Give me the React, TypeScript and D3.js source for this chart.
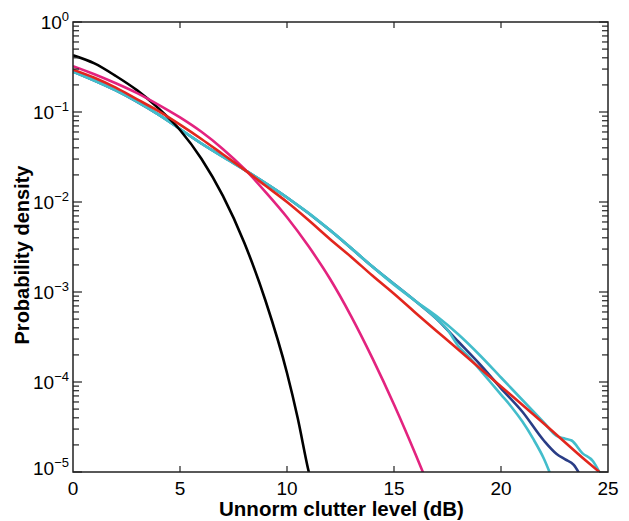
import React, { useEffect } from 'react';
import * as d3 from 'd3';

// clutter level (dB) and log10 of probability density
const blackX = [0, 1, 2, 3, 4, 5, 6, 7, 8, 9, 10, 10.5, 11, 11.1];
const blackY = [-0.37, -0.46, -0.6, -0.76, -0.96, -1.2, -1.52, -1.93, -2.45, -3.1, -3.9, -4.4, -4.98, -5.08];

const pinkX = [0, 1, 2, 3, 4, 5, 6, 7, 8, 9, 10, 11, 12, 13, 14, 15, 16, 16.4];
const pinkY = [-0.49, -0.58, -0.68, -0.79, -0.92, -1.06, -1.22, -1.41, -1.63, -1.89, -2.17, -2.49, -2.85, -3.27, -3.74, -4.25, -4.8, -5.03];

const redX = [0, 1, 2, 3, 4, 5, 6, 7, 8, 9, 10, 11, 12, 13, 14, 15, 16, 18, 20, 22, 24, 24.6];
const redY = [-0.53, -0.62, -0.73, -0.86, -0.99, -1.14, -1.3, -1.47, -1.64, -1.82, -2.0, -2.2, -2.41, -2.61, -2.82, -3.02, -3.23, -3.64, -4.05, -4.46, -4.88, -5.0];

const cyanX = [0, 1, 2, 3, 4, 5, 6, 7, 8, 9, 10, 11, 12, 13, 14, 15, 16, 17, 18, 19, 20, 21, 22, 22.6, 23, 23.3, 23.8, 24.3, 24.7];
const cyanY = [-0.55, -0.65, -0.76, -0.88, -1.03, -1.19, -1.35, -1.5, -1.64, -1.79, -1.95, -2.12, -2.31, -2.51, -2.72, -2.92, -3.1, -3.27, -3.47, -3.7, -3.95, -4.2, -4.45, -4.6, -4.63, -4.65, -4.79, -4.88, -5.05];

const cyan2X = [0, 2, 4, 6, 8, 10, 12, 14, 16, 17, 17.5, 18, 18.5, 19, 19.5, 20, 20.5, 21, 21.5, 22, 22.4];
const cyan2Y = [-0.55, -0.76, -1.03, -1.35, -1.64, -1.95, -2.31, -2.72, -3.1, -3.3, -3.42, -3.6, -3.72, -3.86, -4.0, -4.14, -4.28, -4.44, -4.63, -4.85, -5.08];

const navyX = [0, 2, 4, 6, 8, 10, 12, 14, 16, 17, 18, 19, 20, 21, 22, 22.6, 23, 23.4, 23.8];
const navyY = [-0.55, -0.76, -1.03, -1.35, -1.64, -1.95, -2.31, -2.72, -3.1, -3.3, -3.55, -3.8, -4.07, -4.33, -4.65, -4.8, -4.86, -4.92, -5.08];

const xTicks = [0, 5, 10, 15, 20, 25];
const yDecades = [0, -1, -2, -3, -4, -5];

const series = [
  { xs: navyX, ys: navyY, color: '#2a3d86' },
  { xs: cyan2X, ys: cyan2Y, color: '#43bdcb' },
  { xs: cyanX, ys: cyanY, color: '#43bdcb' },
  { xs: blackX, ys: blackY, color: '#000000' },
  { xs: pinkX, ys: pinkY, color: '#e3237f' },
  { xs: redX, ys: redY, color: '#e2261d' },
];

const W = 629, H = 521;
const left = 73, right = 608, top = 22, bottom = 472;

export default function App() {
  useEffect(() => {
    document.body.style.margin = '0';
  }, []);

  const x = d3.scaleLinear().domain([0, 25]).range([left, right]);
  const y = d3.scaleLog().domain([1e-5, 1]).range([bottom, top]);

  const line = d3.line<[number, number]>()
    .x(d => x(d[0]))
    .y(d => y(Math.pow(10, d[1])))
    .curve(d3.curveMonotoneX);

  const minor: number[] = [];
  yDecades.slice(1).forEach(e => {
    for (let k = 2; k <= 9; k++) minor.push(k * Math.pow(10, e));
  });

  const font = 'Liberation Sans, Arial, Helvetica, sans-serif';

  return (
    <svg width={W} height={H} style={{ display: 'block' }} fontFamily={font}>
      <defs>
        <clipPath id="plot">
          <rect x={left} y={top} width={right - left} height={bottom - top} />
        </clipPath>
      </defs>
      <g clipPath="url(#plot)">
        {series.map((s, i) => (
          <path key={i} d={line(s.xs.map((v, j) => [v, s.ys[j]] as [number, number])) || ''}
            fill="none" stroke={s.color} strokeWidth={2.6} strokeLinejoin="round" />
        ))}
      </g>
      <rect x={left} y={top} width={right - left} height={bottom - top} fill="none" stroke="#222" strokeWidth={1.5} />
      {xTicks.slice(1, -1).map(t => (
        <g key={'xt' + t} stroke="#222" strokeWidth={1.2}>
          <line x1={x(t)} x2={x(t)} y1={bottom} y2={bottom - 6} />
          <line x1={x(t)} x2={x(t)} y1={top} y2={top + 6} />
        </g>
      ))}
      {minor.map((v, i) => (
        <g key={'mn' + i} stroke="#222" strokeWidth={1.2}>
          <line x1={left} x2={left + 6} y1={y(v)} y2={y(v)} />
          <line x1={right} x2={right - 6} y1={y(v)} y2={y(v)} />
        </g>
      ))}
      {yDecades.map(e => (
        <g key={'mj' + e} stroke="#222" strokeWidth={1.2}>
          <line x1={left} x2={left + 9} y1={y(Math.pow(10, e))} y2={y(Math.pow(10, e))} />
          <line x1={right} x2={right - 9} y1={y(Math.pow(10, e))} y2={y(Math.pow(10, e))} />
        </g>
      ))}
      {xTicks.map(t => (
        <text key={'xl' + t} x={x(t)} y={495} textAnchor="middle" fontSize={19}>{t}</text>
      ))}
      {yDecades.map(e => (
        <text key={'yl' + e} x={left - 4} y={y(Math.pow(10, e)) + (e === -5 ? 3 : 7)} textAnchor="end" fontSize={19}>
          10<tspan dy={-8} fontSize={13}>{e === 0 ? '0' : '\u2212' + -e}</tspan>
        </text>
      ))}
      <text x={(left + right) / 2 + 1} y={516} textAnchor="middle" fontSize={20.5} fontWeight="bold">Unnorm clutter level (dB)</text>
      <text transform={`translate(29,${(top + bottom) / 2 + 8}) rotate(-90)`} textAnchor="middle" fontSize={20} fontWeight="bold">Probability density</text>
    </svg>
  );
}
